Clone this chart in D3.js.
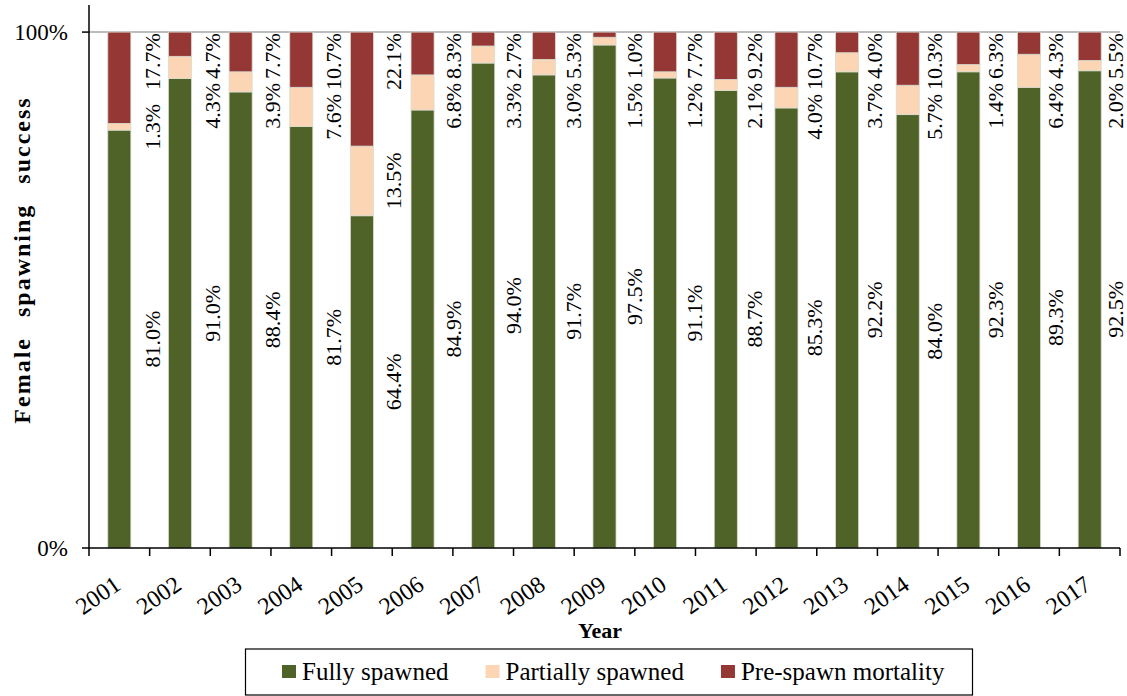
<!DOCTYPE html>
<html>
<head>
<meta charset="utf-8">
<script src="https://cdn.jsdelivr.net/npm/d3@7"></script>
<style>
  body { margin: 0; background: #fff; }
  svg { display: block; }
  text { font-family: "Liberation Serif", "Times New Roman", serif; fill: #000; }
</style>
</head>
<body>
<div id="container"></div>
<script>
// chart values (percent of females)
const years = ['2001', '2002', '2003', '2004', '2005', '2006', '2007', '2008', '2009',
  '2010', '2011', '2012', '2013', '2014', '2015', '2016', '2017'];
const fullySpawned = [81.0, 91.0, 88.4, 81.7, 64.4, 84.9, 94.0, 91.7, 97.5,
  91.1, 88.7, 85.3, 92.2, 84.0, 92.3, 89.3, 92.5];
const partiallySpawned = [1.3, 4.3, 3.9, 7.6, 13.5, 6.8, 3.3, 3.0, 1.5,
  1.2, 2.1, 4.0, 3.7, 5.7, 1.4, 6.4, 2.0];
const preSpawnMortality = [17.7, 4.7, 7.7, 10.7, 22.1, 8.3, 2.7, 5.3, 1.0,
  7.7, 9.2, 10.7, 4.0, 10.3, 6.3, 4.3, 5.5];
const yTickValues = [0, 1];
const yTickLabels = ['0%', '100%'];
const seriesNames = ['Fully spawned', 'Partially spawned', 'Pre-spawn mortality'];

const keys = ['fully', 'partial', 'pre'];
const colors = { fully: '#4f6228', partial: '#fcd5b4', pre: '#953735' };

const width = 1127, height = 696;
const margin = { top: 5, right: 7, bottom: 148, left: 89 };
const plotRight = width - margin.right;
const plotBottom = height - margin.bottom;

const rows = years.map((yr, i) => ({
  year: yr,
  fully: fullySpawned[i],
  partial: partiallySpawned[i],
  pre: preSpawnMortality[i]
}));

const stacked = d3.stack().keys(keys).offset(d3.stackOffsetExpand)(rows);

const svg = d3.select('#container').append('svg')
  .attr('width', width)
  .attr('height', height);

const x = d3.scaleBand()
  .domain(years)
  .range([margin.left, plotRight])
  .paddingInner(0.62)
  .paddingOuter(0.31);
// category slots, for tick marks between the years
const slot = d3.scaleBand().domain(years).range([margin.left, plotRight]).padding(0);
// data labels sit in the gaps to the right of each bar
const labelX = d3.scalePoint().domain(years).range([152.5, 1115.5]);

const y = d3.scaleLinear()
  .domain([0, 1.0525])
  .range([plotBottom, margin.top]);

// 100% gridline
svg.append('line')
  .attr('x1', margin.left).attr('x2', plotRight)
  .attr('y1', y(1)).attr('y2', y(1))
  .attr('stroke', '#a6a6a6')
  .attr('stroke-width', 1.5);

// bars
svg.append('g')
  .selectAll('g')
  .data(stacked)
  .join('g')
  .attr('fill', d => colors[d.key])
  .selectAll('rect')
  .data(d => d)
  .join('rect')
  .attr('x', d => x(d.data.year))
  .attr('width', x.bandwidth())
  .attr('y', d => y(d[1]))
  .attr('height', d => y(d[0]) - y(d[1]))
  .attr('stroke', '#d9dccf')
  .attr('stroke-width', 0.8);

// rotated data labels
const labels = svg.append('g').attr('font-size', 22);
const fmt = v => v.toFixed(1) + '%';

rows.forEach((r, i) => {
  const lx = labelX(r.year);
  const fullStack = stacked[0][i];
  const partStack = stacked[1][i];

  // fully spawned: centred on the segment
  labels.append('text')
    .attr('transform', `translate(${lx},${y((fullStack[0] + fullStack[1]) / 2)}) rotate(-90)`)
    .attr('text-anchor', 'middle')
    .attr('dominant-baseline', 'central')
    .text(fmt(r.fully));

  // pre-spawn mortality: pinned at the top of the plot
  const pre = labels.append('text')
    .attr('transform', `translate(${lx},${y(1) + 1}) rotate(-90)`)
    .attr('text-anchor', 'end')
    .attr('dominant-baseline', 'central')
    .text(fmt(r.pre));
  const preBottom = y(1) + 1 + pre.node().getComputedTextLength();

  // partially spawned: centred on segment unless it would collide with the label above
  const part = labels.append('text')
    .attr('text-anchor', 'end')
    .attr('dominant-baseline', 'central')
    .text(fmt(r.partial));
  const len = part.node().getComputedTextLength();
  const top = Math.max(y((partStack[0] + partStack[1]) / 2) - len / 2, preBottom + 4);
  part.attr('transform', `translate(${lx},${top}) rotate(-90)`);
});

// y axis
svg.append('line')
  .attr('x1', margin.left).attr('x2', margin.left)
  .attr('y1', margin.top).attr('y2', plotBottom)
  .attr('stroke', '#000').attr('stroke-width', 1.5);

const yt = svg.append('g');
yt.selectAll('line')
  .data(yTickValues)
  .join('line')
  .attr('x1', margin.left - 7).attr('x2', margin.left)
  .attr('y1', d => y(d)).attr('y2', d => y(d))
  .attr('stroke', '#000').attr('stroke-width', 1.5);
yt.selectAll('text')
  .data(yTickValues)
  .join('text')
  .attr('x', margin.left - 21)
  .attr('y', d => y(d))
  .attr('dy', '0.35em')
  .attr('text-anchor', 'end')
  .attr('font-size', 23)
  .text((d, i) => yTickLabels[i]);

// x axis
svg.append('line')
  .attr('x1', margin.left).attr('x2', plotRight)
  .attr('y1', plotBottom).attr('y2', plotBottom)
  .attr('stroke', '#000').attr('stroke-width', 1.5);

svg.append('g')
  .selectAll('line')
  .data(years.concat(['end']))
  .join('line')
  .attr('x1', d => d === 'end' ? plotRight : slot(d))
  .attr('x2', d => d === 'end' ? plotRight : slot(d))
  .attr('y1', plotBottom).attr('y2', plotBottom + 8)
  .attr('stroke', '#000').attr('stroke-width', 1.5);

svg.append('g')
  .selectAll('text')
  .data(years)
  .join('text')
  .attr('transform', d => `translate(${x(d) + x.bandwidth() / 2 + 3},${plotBottom + 40}) rotate(-35)`)
  .attr('text-anchor', 'end')
  .attr('font-size', 24)
  .text(d => d);

// axis titles
svg.append('text')
  .attr('transform', `translate(30,260) rotate(-90)`)
  .attr('text-anchor', 'middle')
  .attr('font-size', 24)
  .attr('font-weight', 'bold')
  .attr('letter-spacing', 2)
  .attr('word-spacing', 12)
  .text('Female spawning success');

svg.append('text')
  .attr('x', 600)
  .attr('y', 638)
  .attr('text-anchor', 'middle')
  .attr('font-size', 22)
  .attr('font-weight', 'bold')
  .text('Year');

// legend
const legend = svg.append('g');
legend.append('rect')
  .attr('x', 245.5).attr('y', 649)
  .attr('width', 727).attr('height', 46)
  .attr('fill', '#fff')
  .attr('stroke', '#000').attr('stroke-width', 1.2);

let lxPos = 282;
keys.forEach((k, i) => {
  legend.append('rect')
    .attr('x', lxPos).attr('y', 665)
    .attr('width', 14).attr('height', 13)
    .attr('fill', colors[k]);
  const t = legend.append('text')
    .attr('x', lxPos + 20)
    .attr('y', 680)
    .attr('font-size', 25)
    .text(seriesNames[i]);
  lxPos += 20 + t.node().getComputedTextLength() + 37;
});
</script>
</body>
</html>
